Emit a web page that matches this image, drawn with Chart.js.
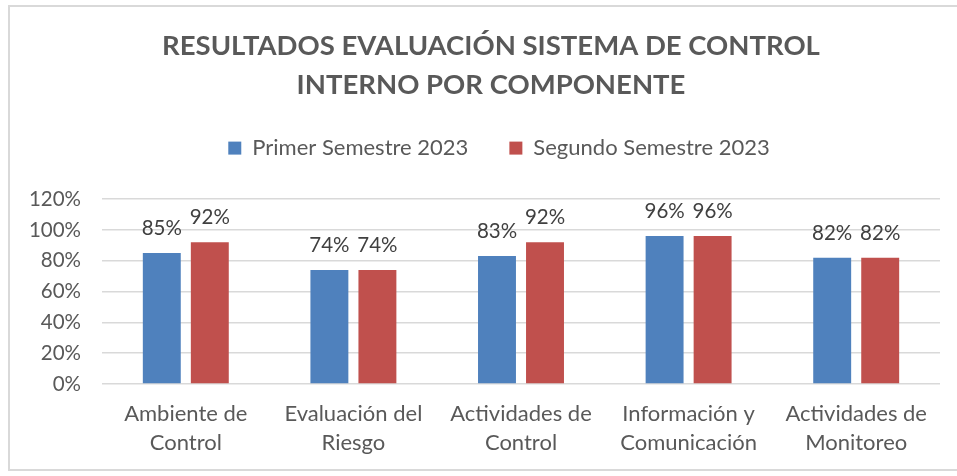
<!DOCTYPE html>
<html><head><meta charset="utf-8">
<script src="https://cdn.jsdelivr.net/npm/chart.js@4"></script>
<style>
html,body{margin:0;padding:0;background:#fff;}
#wrap{position:relative;width:957px;height:476px;overflow:hidden;}
#frame{position:absolute;left:8px;top:5px;width:970px;height:466px;border:2px solid #d9d9d9;box-sizing:border-box;}
canvas{position:absolute;left:0;top:0;}
</style></head><body>
<div id="wrap"><div id="frame"></div><canvas id="c" width="957" height="476"></canvas></div>
<script>
const categories = [['Ambiente de','Control'],['Evaluación del','Riesgo'],['Actividades de','Control'],['Información y','Comunicación'],['Actividades de','Monitoreo']];
const primerSemestre = [85, 74, 83, 96, 82];
const segundoSemestre = [92, 74, 92, 96, 82];
const seriesNames = ['Primer Semestre 2023','Segundo Semestre 2023'];
const titleLines = ['RESULTADOS EVALUACIÓN SISTEMA DE CONTROL','INTERNO POR COMPONENTE'];
const yTicks = [0, 20, 40, 60, 80, 100, 120];

const FONT = 'Lato';
const labelPlugin = {
  id:'barLabels',
  afterInit(chart){
    const lg = chart.legend;
    if (lg) {
      const f = lg.fit;
      lg.fit = function(){ f.call(this); this.height += 30; };
    }
  },
  afterLayout(chart){
    const lg = chart.legend;
    if (lg) { lg.left += 29; lg.right += 29; }
    const tt = chart.titleBlock;
    if (tt) { tt.left += 21; tt.right += 21; }
  },
  afterDatasetsDraw(chart){
    const ctx = chart.ctx;
    ctx.save();
    ctx.font = '20.5px ' + FONT;
    ctx.fillStyle = '#404040';
    ctx.textAlign = 'center';
    ctx.textBaseline = 'alphabetic';
    chart.data.datasets.forEach((ds, i) => {
      chart.getDatasetMeta(i).data.forEach((bar, j) => {
        ctx.fillText(ds.data[j] + '%', bar.x, bar.y - 18);
      });
    });
    ctx.restore();
  }
};

new Chart(document.getElementById('c'), {
  type:'bar',
  data:{
    labels: categories,
    datasets:[
      {label:seriesNames[0], data:primerSemestre, backgroundColor:'#4f81bd', borderColor:'#4f81bd', borderWidth:0},
      {label:seriesNames[1], data:segundoSemestre, backgroundColor:'#c0504d', borderColor:'#c0504d', borderWidth:0}
    ]
  },
  options:{
    responsive:false,
    animation:false,
    events:[],
    datasets:{bar:{categoryPercentage:0.573, barPercentage:0.79}},
    layout:{padding:{left:0,right:17,top:27,bottom:0}},
    plugins:{
      title:{display:true, text:titleLines, color:'#595959', font:{family:FONT, size:27.5, weight:'bold', lineHeight:1.42}, padding:{top:0,bottom:-9}},
      legend:{position:'top', labels:{color:'#595959', font:{family:FONT, size:22}, boxWidth:13, boxHeight:13, padding:41}},
      tooltip:{enabled:false}
    },
    scales:{
      x:{
        grid:{display:false},
        border:{display:false},
        ticks:{color:'#595959', font:{family:FONT, size:22, lineHeight:1.3}, maxRotation:0, autoSkip:false, padding:8},
        afterFit(s){ s.height = 92; }
      },
      y:{
        min:0, max:120,
        afterBuildTicks(s){ s.ticks = yTicks.map(v=>({value:v})); },
        grid:{color:'#d9d9d9', lineWidth:1.5, drawTicks:false},
        border:{display:false},
        ticks:{color:'#595959', font:{family:FONT, size:20.5}, padding:21, callback:v=>v+'%'},
        afterFit(s){ s.width = 102; }
      }
    }
  },
  plugins:[labelPlugin]
});
</script>
</body></html>
